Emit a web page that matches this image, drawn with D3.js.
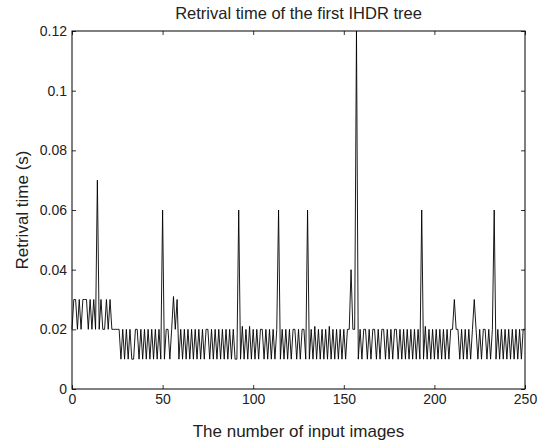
<!DOCTYPE html>
<html>
<head>
<meta charset="utf-8">
<script src="https://cdn.jsdelivr.net/npm/d3@7"></script>
<style>
  body { margin: 0; background: #fff; }
  svg { display: block; font-family: "Liberation Sans", Arial, sans-serif; }
</style>
</head>
<body>
<svg id="chart" width="552" height="443"></svg>
<script>
// retrieval time (s) for each number of input images, x = 0..250
const retrievalTime = [
  0.02, 0.03, 0.03, 0.02, 0.03, 0.02, 0.03, 0.03, 0.03, 0.02,
  0.03, 0.02, 0.03, 0.02, 0.07, 0.02, 0.03, 0.02, 0.02, 0.03,
  0.02, 0.03, 0.02, 0.02, 0.02, 0.02, 0.02, 0.01, 0.02, 0.01,
  0.02, 0.01, 0.02, 0.01, 0.01, 0.02, 0.02, 0.01, 0.02, 0.01,
  0.02, 0.01, 0.02, 0.01, 0.02, 0.01, 0.02, 0.01, 0.02, 0.01,
  0.06, 0.01, 0.02, 0.02, 0.01, 0.02, 0.031, 0.02, 0.03, 0.01,
  0.02, 0.01, 0.02, 0.01, 0.02, 0.01, 0.02, 0.01, 0.02, 0.01,
  0.02, 0.01, 0.02, 0.01, 0.02, 0.02, 0.01, 0.02, 0.01, 0.02,
  0.01, 0.02, 0.01, 0.02, 0.01, 0.02, 0.01, 0.02, 0.01, 0.02,
  0.01, 0.01, 0.06, 0.01, 0.021, 0.01, 0.02, 0.01, 0.021, 0.01,
  0.02, 0.01, 0.02, 0.01, 0.02, 0.02, 0.01, 0.02, 0.01, 0.02,
  0.01, 0.02, 0.01, 0.02, 0.06, 0.01, 0.02, 0.01, 0.02, 0.01,
  0.02, 0.01, 0.02, 0.02, 0.01, 0.02, 0.01, 0.02, 0.02, 0.01,
  0.06, 0.01, 0.02, 0.01, 0.021, 0.01, 0.02, 0.01, 0.02, 0.01,
  0.02, 0.01, 0.021, 0.01, 0.02, 0.01, 0.02, 0.01, 0.02, 0.01,
  0.02, 0.01, 0.02, 0.02, 0.04, 0.02, 0.02, 0.12, 0.01, 0.02,
  0.01, 0.02, 0.02, 0.01, 0.02, 0.01, 0.02, 0.02, 0.01, 0.02,
  0.01, 0.02, 0.02, 0.01, 0.02, 0.01, 0.02, 0.01, 0.02, 0.02,
  0.01, 0.02, 0.01, 0.02, 0.01, 0.02, 0.01, 0.02, 0.01, 0.02,
  0.01, 0.02, 0.01, 0.06, 0.01, 0.021, 0.01, 0.02, 0.01, 0.02,
  0.01, 0.02, 0.01, 0.02, 0.01, 0.02, 0.01, 0.02, 0.01, 0.02,
  0.02, 0.03, 0.02, 0.02, 0.01, 0.02, 0.01, 0.02, 0.01, 0.02,
  0.01, 0.02, 0.03, 0.02, 0.01, 0.02, 0.01, 0.02, 0.02, 0.01,
  0.02, 0.01, 0.02, 0.06, 0.01, 0.02, 0.01, 0.02, 0.01, 0.02,
  0.01, 0.02, 0.01, 0.02, 0.01, 0.02, 0.01, 0.02, 0.01, 0.02,
  0.02
];
const xTicks = [0, 50, 100, 150, 200, 250];
const yTicks = [0, 0.02, 0.04, 0.06, 0.08, 0.1, 0.12];
const yTickLabels = ["0", "0.02", "0.04", "0.06", "0.08", "0.1", "0.12"];

const margin = { top: 31, right: 27, bottom: 54, left: 72 };
const width = 552, height = 443;
const svg = d3.select("#chart");

const x = d3.scaleLinear().domain([0, 250]).range([margin.left, width - margin.right]);
const y = d3.scaleLinear().domain([0, 0.12]).range([height - margin.bottom, margin.top]);

// line
const line = d3.line()
  .x((d, i) => x(i))
  .y(d => y(d));

svg.append("path")
  .datum(retrievalTime)
  .attr("d", line)
  .attr("fill", "none")
  .attr("stroke", "#000")
  .attr("stroke-width", 0.9)
  .attr("stroke-linejoin", "miter");

// axes (matlab style: ticks inside, box on)
const tickLen = 4;
const axisStyle = g =>
{
  g.select(".domain").remove();
  g.selectAll("line").attr("stroke", "#000").attr("stroke-width", 0.8);
  g.selectAll("text").attr("fill", "#222").style("font-size", "14px");
};

svg.append("g")
  .attr("transform", `translate(0,${ y(0) })`)
  .call(d3.axisBottom(x).tickValues(xTicks).tickSizeInner(-tickLen).tickSizeOuter(0).tickPadding(5))
  .call(axisStyle);

svg.append("g")
  .attr("transform", `translate(0,${ y(0.12) })`)
  .call(d3.axisTop(x).tickValues(xTicks).tickSizeInner(-tickLen).tickSizeOuter(0).tickFormat(""))
  .call(axisStyle);

svg.append("g")
  .attr("transform", `translate(${ x(0) },0)`)
  .call(d3.axisLeft(y).tickValues(yTicks).tickSizeInner(-tickLen).tickSizeOuter(0).tickPadding(5)
    .tickFormat((d, i) => yTickLabels[i]))
  .call(axisStyle);

svg.append("g")
  .attr("transform", `translate(${ x(250) },0)`)
  .call(d3.axisRight(y).tickValues(yTicks).tickSizeInner(-tickLen).tickSizeOuter(0).tickFormat(""))
  .call(axisStyle);

// box
svg.append("rect")
  .attr("x", x(0))
  .attr("y", y(0.12))
  .attr("width", x(250) - x(0))
  .attr("height", y(0) - y(0.12))
  .attr("fill", "none")
  .attr("stroke", "#000")
  .attr("stroke-width", 1);

// labels
svg.append("text")
  .attr("x", (x(0) + x(250)) / 2)
  .attr("y", 19)
  .attr("text-anchor", "middle")
  .style("font-size", "16.5px")
  .attr("fill", "#222")
  .text("Retrival time of the first IHDR tree");

svg.append("text")
  .attr("x", (x(0) + x(250)) / 2)
  .attr("y", 437)
  .attr("text-anchor", "middle")
  .style("font-size", "17px")
  .attr("fill", "#222")
  .text("The number of input images");

svg.append("text")
  .attr("transform", `translate(28,${ (y(0) + y(0.12)) / 2 }) rotate(-90)`)
  .attr("text-anchor", "middle")
  .style("font-size", "17px")
  .attr("fill", "#222")
  .text("Retrival time (s)");
</script>
</body>
</html>
